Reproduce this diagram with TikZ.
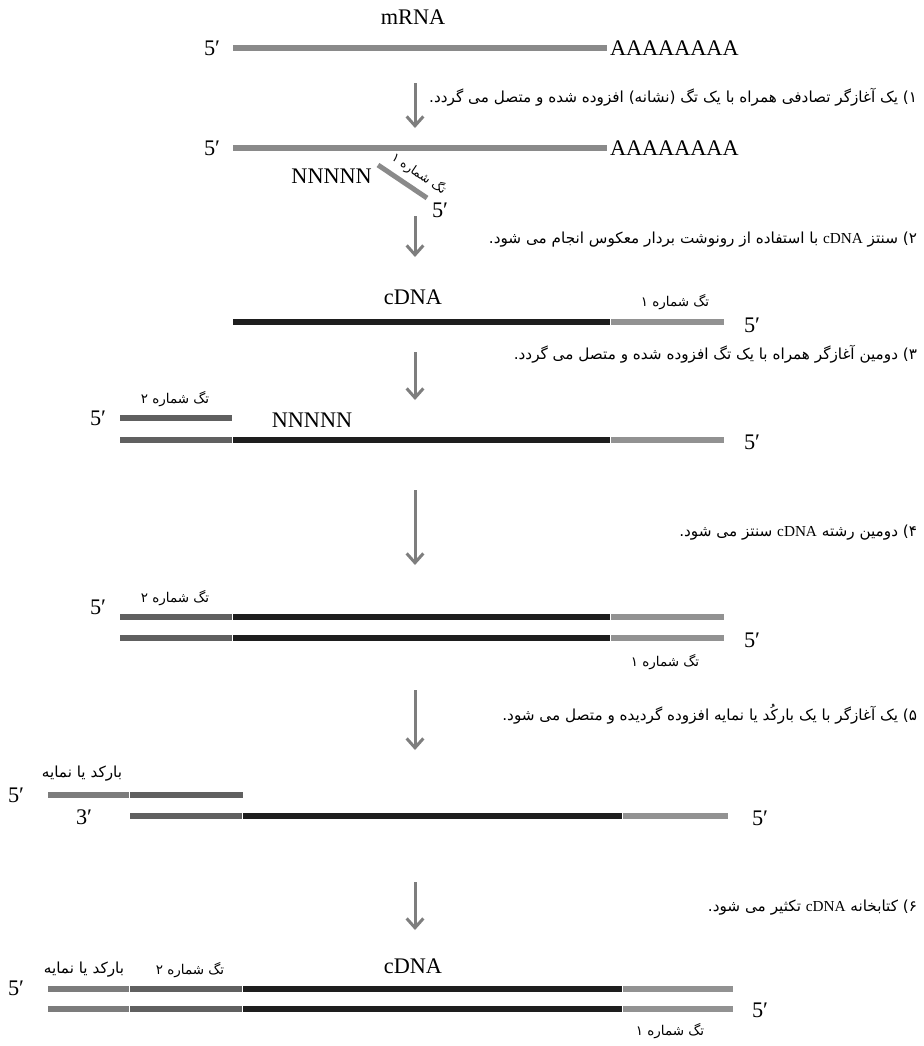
\documentclass[tikz,border=0pt]{standalone}
\usepackage{fontspec}
\setmainfont{Liberation Serif}
\newfontfamily\fa[Script=Arabic]{DejaVu Sans}
\TeXXeTstate=1
\usetikzlibrary{arrows.meta}
\definecolor{rnagray}{HTML}{8A8A8A}
\definecolor{cdnablack}{HTML}{1E1E1E}
\definecolor{tagone}{HTML}{929292}
\definecolor{tagtwo}{HTML}{606060}
\definecolor{barcode}{HTML}{7C7C7C}
\definecolor{arrowgray}{HTML}{7E7E7E}

\begin{document}
\begin{tikzpicture}[x=.3mm,y=-.3mm,line width=1.8mm,
  flow/.style={draw=arrowgray,line width=.9mm,-{Straight Barb[length=2.8mm,width=5mm,line width=.9mm]}},
  lat/.style={font=\fontsize{19}{21}\selectfont,inner sep=1pt},
  steptext/.style={font=\fa\fontsize{13}{15}\selectfont,anchor=east,inner sep=0pt},
  taglbl/.style={font=\fa\fontsize{11.5}{13}\selectfont,inner sep=1pt},
  bclbl/.style={font=\fa\fontsize{13}{15}\selectfont,inner sep=1pt}]
\useasboundingbox (0,0) rectangle (924,1046);
% mRNA
\node[lat] (mrna) at (413,17) {mRNA};
\node[lat] (r5) at (212,48) {5′}; \draw[rnagray] (233,48)--(607,48) node[lat,right,black,inner sep=0pt] (polya) {AAAAAAAA};
\coordinate (a1s) at (415,83); \coordinate (a1e) at (415,128); \draw[flow] (a1s)--(a1e);
\node[steptext] (c1) at (920,97) {\beginR ۱) یک آغازگر تصادفی همراه با یک تگ (نشانه) افزوده شده و متصل می گردد.\endR};
% random primer on the mRNA
\node[lat] (r5b) at (212,148) {5′}; \draw[rnagray] (233,148)--(607,148) node[lat,right,black,inner sep=0pt] (polyab) {AAAAAAAA};
\coordinate (p1) at (378,165); \coordinate (p2) at (427,198); \draw[rnagray,line width=1.5mm] (p1)--(p2);
\node[lat,anchor=east] (nn1) at (376,176) {NNNNN}; \node[lat] (p5) at (440,210) {5′};
\node[taglbl,rotate=-34,font=\fa\fontsize{10.5}{12}\selectfont] (t1r) at (419,174) {\beginR تگ شماره ۱\endR};
\coordinate (a2s) at (415,216); \coordinate (a2e) at (415,257); \draw[flow] (a2s)--(a2e);
\node[steptext] (c2) at (920,240) {\beginR ۲) سنتز \textrm{cDNA} با استفاده از رونوشت بردار معکوس انجام می شود.\endR};
% first strand
\node[lat] (cdna1) at (413,297) {cDNA}; \node[taglbl] (t1a) at (675,302) {\beginR تگ شماره ۱\endR};
\draw[cdnablack] (233,322)--(610,322); \draw[tagone] (611,322)--(724,322); \node[lat] (f5) at (752,325) {5′};
\coordinate (a3s) at (415,352); \coordinate (a3e) at (415,400); \draw[flow] (a3s)--(a3e);
\node[steptext] (c3) at (920,354) {\beginR ۳) دومین آغازگر همراه با یک تگ افزوده شده و متصل می گردد.\endR};
% second primer
\node[taglbl] (t2a) at (175,399) {\beginR تگ شماره ۲\endR}; \node[lat] (s5a) at (98,418) {5′};
\draw[tagtwo] (120,418)--(232,418); \node[lat] (nn2) at (312,420) {NNNNN};
\draw[tagtwo] (120,440)--(232,440); \draw[cdnablack] (233,440)--(610,440); \draw[tagone] (611,440)--(724,440);
\node[lat] (s5b) at (752,442) {5′};
\coordinate (a4s) at (415,490); \coordinate (a4e) at (415,565); \draw[flow] (a4s)--(a4e);
\node[steptext] (c4) at (920,533) {\beginR ۴) دومین رشته \textrm{cDNA} سنتز می شود.\endR};
% double strand
\node[taglbl] (t2b) at (175,598) {\beginR تگ شماره ۲\endR}; \node[lat] (d5a) at (98,607) {5′};
\foreach \y in {617,638}{\draw[tagtwo] (120,\y)--(232,\y); \draw[cdnablack] (233,\y)--(610,\y); \draw[tagone] (611,\y)--(724,\y);}
\node[lat] (d5b) at (752,640) {5′}; \node[taglbl] (t1b) at (665,662) {\beginR تگ شماره ۱\endR};
\coordinate (a5s) at (415,690); \coordinate (a5e) at (415,750); \draw[flow] (a5s)--(a5e);
\node[steptext] (c5) at (920,714) {\beginR ۵) یک آغازگر با یک بارکُد یا نمایه افزوده گردیده و متصل می شود.\endR};
% barcode primer
\node[bclbl] (bca) at (82,774) {\beginR بارکد یا نمایه\endR}; \node[lat] (b5a) at (16,795) {5′};
\draw[barcode] (48,795)--(129,795); \draw[tagtwo] (130,795)--(243,795);
\node[lat] (b3) at (84,817) {3′};
\draw[tagtwo] (130,816)--(242,816); \draw[cdnablack] (243,816)--(622,816); \draw[tagone] (623,816)--(728,816);
\node[lat] (b5b) at (760,818) {5′};
\coordinate (a6s) at (415,882); \coordinate (a6e) at (415,930); \draw[flow] (a6s)--(a6e);
\node[steptext] (c6) at (920,908) {\beginR ۶) کتابخانه \textrm{cDNA} تکثیر می شود.\endR};
% amplified library
\node[lat] (cdna2) at (413,966) {cDNA}; \node[bclbl] (bcb) at (84,970) {\beginR بارکد یا نمایه\endR};
\node[taglbl] (t2c) at (190,970) {\beginR تگ شماره ۲\endR}; \node[lat] (l5a) at (16,988) {5′};
\foreach \y in {989,1009}{\draw[barcode] (48,\y)--(129,\y); \draw[tagtwo] (130,\y)--(242,\y); \draw[cdnablack] (243,\y)--(622,\y); \draw[tagone] (623,\y)--(733,\y);}
\node[lat] (l5b) at (760,1010) {5′}; \node[taglbl] (t1c) at (670,1031) {\beginR تگ شماره ۱\endR};
\end{tikzpicture}
\end{document}
